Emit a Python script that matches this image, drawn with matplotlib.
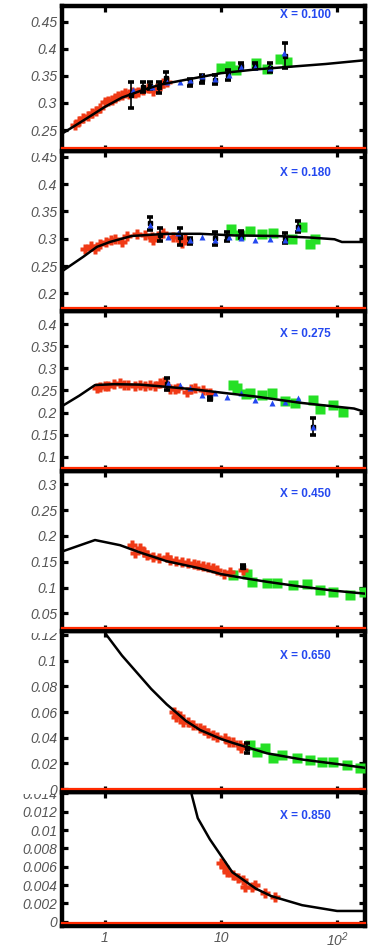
#!/usr/bin/env python3
"""Six stacked panels, value vs Q2 (log x) for several X bins: data sets + fit curve."""
import matplotlib
matplotlib.use("Agg")
import matplotlib.pyplot as plt
import matplotlib.transforms as mtransforms
from matplotlib.patches import Rectangle
from matplotlib.ticker import NullLocator, FuncFormatter

plt.rcParams["font.family"] = ["Liberation Sans", "DejaVu Sans"]
plt.rcParams["font.style"] = "italic"
plt.rcParams["mathtext.default"] = "regular"

# ---------- data ----------

PANEL_LABELS = ["X = 0.100", "X = 0.180", "X = 0.275", "X = 0.450", "X = 0.650", "X = 0.850"]

# panel 1, X = 0.100
line1_x = [0.43, 0.55, 0.7, 1.0, 1.4, 2.0, 3.0, 5.0, 10, 20, 40, 80, 175]
line1_y = [0.244, 0.258, 0.272, 0.293, 0.310, 0.322, 0.334, 0.343, 0.355, 0.362, 0.367, 0.372, 0.379]
red1_x = [0.55, 0.60, 0.65, 0.71, 0.77, 0.84, 0.905, 1.0, 1.07, 1.14, 1.22, 1.30, 1.40,
          1.49, 1.60, 1.70, 1.82, 1.94, 2.14, 2.36, 2.6, 2.79, 3.0, 3.18, 3.40]
red1_y = [0.259, 0.266, 0.272, 0.276, 0.281, 0.285, 0.290, 0.302, 0.303, 0.305, 0.309, 0.312, 0.315,
          0.318, 0.316, 0.321, 0.318, 0.321, 0.324, 0.327, 0.322, 0.327, 0.331, 0.336, 0.339]
black1_x = [1.68, 2.13, 2.44, 2.92, 3.36, 5.4, 6.8, 8.9, 11.4, 14.8, 19.6, 26.4, 35.6]
black1_y = [0.315, 0.330, 0.332, 0.329, 0.347, 0.338, 0.344, 0.343, 0.351, 0.368, 0.368, 0.365, 0.387]
black1_e = [0.024, 0.009, 0.007, 0.010, 0.011, 0.007, 0.008, 0.008, 0.009, 0.005, 0.005, 0.008, 0.023]
blue1_x = [1.75, 2.52, 3.4, 4.43, 5.4, 6.8, 8.9, 11.6, 15.0, 19.6, 26.4, 34.9]
blue1_y = [0.324, 0.330, 0.339, 0.339, 0.342, 0.349, 0.344, 0.352, 0.367, 0.367, 0.364, 0.392]
green1_x = [10.0, 12.0, 13.4, 19.9, 24.7, 32.2, 36.8]
green1_y = [0.364, 0.369, 0.361, 0.373, 0.363, 0.382, 0.376]

# panel 2, X = 0.180
line2_x = [0.43, 0.65, 0.85, 1.1, 1.7, 3.4, 6.6, 13, 30, 60, 95, 110, 175]
line2_y = [0.241, 0.267, 0.285, 0.294, 0.305, 0.309, 0.309, 0.306, 0.305, 0.302, 0.299, 0.294, 0.294]
red2_x = [0.67, 0.75, 0.82, 0.905, 1.03, 1.12, 1.22, 1.39, 1.54, 1.87, 2.2, 2.52, 2.6,
          2.88, 3.18, 3.88, 4.43, 4.58, 4.9]
red2_y = [0.282, 0.287, 0.282, 0.291, 0.294, 0.297, 0.300, 0.294, 0.305, 0.308, 0.306, 0.303, 0.298,
          0.305, 0.310, 0.303, 0.298, 0.293, 0.300]
black2_x = [2.44, 2.98, 4.43, 5.4, 8.9, 11.2, 15.0, 35.6, 46.5]
black2_y = [0.328, 0.307, 0.304, 0.296, 0.301, 0.304, 0.308, 0.301, 0.322]
black2_e = [0.012, 0.012, 0.015, 0.005, 0.012, 0.009, 0.007, 0.009, 0.010]
blue2_x = [2.44, 3.51, 4.28, 5.4, 6.8, 8.9, 11.6, 15.0, 19.6, 26.4, 35.6, 46.5]
blue2_y = [0.325, 0.304, 0.310, 0.298, 0.304, 0.298, 0.304, 0.301, 0.298, 0.299, 0.298, 0.319]
green2_x = [12.3, 14.6, 17.8, 22.4, 28.0, 40.6, 49.5, 58.4, 64.5]
green2_y = [0.317, 0.306, 0.314, 0.308, 0.311, 0.300, 0.322, 0.291, 0.299]

# panel 3, X = 0.275
line3_x = [0.43, 0.6, 0.82, 1.2, 2.0, 3.4, 6.0, 10, 20, 48, 100, 140, 175]
line3_y = [0.215, 0.238, 0.262, 0.264, 0.263, 0.258, 0.252, 0.245, 0.236, 0.222, 0.213, 0.209, 0.201]
red3_x = [0.85, 0.905, 1.0, 1.07, 1.2, 1.35, 1.45, 1.59, 1.8, 2.0, 2.2, 2.44, 2.7,
          2.98, 3.2, 3.6, 4.0, 4.28, 5.05, 5.5, 5.96, 7.04, 8.03]
red3_y = [0.256, 0.258, 0.259, 0.260, 0.264, 0.266, 0.263, 0.262, 0.261, 0.262, 0.260, 0.262, 0.259,
          0.266, 0.270, 0.252, 0.254, 0.255, 0.247, 0.252, 0.255, 0.251, 0.243]
black3_x = [3.44, 8.03, 62.6]
black3_y = [0.264, 0.232, 0.168]
black3_e = [0.013, 0.003, 0.019]
blue3_x = [3.51, 4.43, 5.4, 6.8, 8.9, 11.2, 15.0, 19.6, 27.3, 35.6, 46.5, 62.6]
blue3_y = [0.266, 0.262, 0.255, 0.240, 0.243, 0.236, 0.243, 0.228, 0.221, 0.224, 0.232, 0.168]
green3_x = [12.8, 13.6, 16.5, 17.8, 22.4, 27.3, 35.6, 43.4, 62.6, 71.0, 93.0, 113]
green3_y = [0.262, 0.256, 0.241, 0.243, 0.240, 0.243, 0.226, 0.221, 0.228, 0.209, 0.218, 0.202]

# panel 4, X = 0.450
line4_x = [0.43, 0.82, 1.35, 2.0, 3.4, 6.6, 10, 17, 25, 48, 93, 175]
line4_y = [0.170, 0.192, 0.182, 0.168, 0.151, 0.137, 0.126, 0.117, 0.111, 0.102, 0.094, 0.088]
red4_x = [1.70, 1.81, 2.0, 2.15, 2.29, 2.6, 2.9, 3.4, 3.63, 4.1, 4.58, 5.2, 5.8, 6.36,
          7.0, 7.77, 8.5, 9.17, 10.5, 11.9, 15.6]
red4_y = [0.182, 0.166, 0.176, 0.168, 0.163, 0.160, 0.158, 0.160, 0.153, 0.151, 0.150, 0.147, 0.146, 0.144,
          0.142, 0.140, 0.137, 0.134, 0.127, 0.131, 0.134]
black4_x = [15.6]
black4_y = [0.140]
black4_e = [0.003]
blue4_x = []
blue4_y = []
green4_x = [12.8, 16.6, 18.4, 24.7, 30.2, 42, 54.6, 71.3, 93, 129, 169]
green4_y = [0.124, 0.127, 0.111, 0.108, 0.108, 0.105, 0.106, 0.095, 0.092, 0.085, 0.092]

# panel 5, X = 0.650
line5_x = [0.85, 1.03, 1.4, 1.75, 2.5, 3.4, 5, 6.6, 10, 13, 25, 50, 100, 175]
line5_y = [0.135, 0.12, 0.104, 0.094, 0.078, 0.066, 0.053, 0.046, 0.039, 0.0356, 0.0278, 0.0230, 0.0195, 0.0165]
red5_x = [3.9, 4.1, 4.4, 4.73, 5.2, 5.77, 6.6, 7.2, 7.77, 8.6, 9.17, 10.8, 11.8, 12.8, 14.6, 15.0]
red5_y = [0.060, 0.0564, 0.057, 0.0525, 0.052, 0.050, 0.0473, 0.046, 0.0434, 0.0422, 0.0408, 0.0395,
          0.037, 0.0369, 0.0343, 0.0317]
black5_x = [16.6]
black5_y = [0.0317]
black5_e = [0.004]
blue5_x = []
blue5_y = []
green5_x = [17.8, 20.3, 23.9, 28.2, 33.3, 44.8, 58.4, 73.6, 92.7, 121, 158]
green5_y = [0.0343, 0.0291, 0.0317, 0.0239, 0.0265, 0.0239, 0.0226, 0.0213, 0.0213, 0.0187, 0.0161]

# panel 6, X = 0.850
line6_x = [5.4, 5.6, 6.3, 8, 10, 12.5, 15, 20, 27, 50, 100, 175]
line6_y = [0.0150, 0.0138, 0.0113, 0.0090, 0.0072, 0.0054, 0.0047, 0.0036, 0.0028, 0.0018, 0.00117, 0.00117]
red6_x = [10, 10.5, 11.2, 12.8, 14.1, 15.6, 16, 18.4, 19.6, 23.9, 29.2]
red6_y = [0.00637, 0.0060, 0.00545, 0.0051, 0.00473, 0.00455, 0.0038, 0.0038, 0.0040, 0.0031, 0.00273]
black6_x, black6_y, black6_e = [], [], []
blue6_x, blue6_y = [], []
green6_x, green6_y = [], []

XTICKS = [1, 10, 100]
XTICK_LABELS = ["1", "10", "$10^{2}$"]

# ---------- layout ----------

W, H = 370, 948
EDGES = [6, 151, 311, 471, 631, 792, 926]   # panel boundaries, pixels from top
LEFT, RIGHT = 62, 365
XLIM = (0.426, 174)
YLIMS = [(0.2114, 0.479), (0.1678, 0.4604), (0.0678, 0.4294),
         (0.0157, 0.3258), (-0.0023, 0.1231), (-0.00047, 0.01415)]
YTICKS = [[0.25, 0.3, 0.35, 0.4, 0.45],
          [0.2, 0.25, 0.3, 0.35, 0.4, 0.45],
          [0.1, 0.15, 0.2, 0.25, 0.3, 0.35, 0.4],
          [0.05, 0.1, 0.15, 0.2, 0.25, 0.3],
          [0, 0.02, 0.04, 0.06, 0.08, 0.1, 0.12],
          [0, 0.002, 0.004, 0.006, 0.008, 0.01, 0.012, 0.014]]
LABEL_DROP = [9, 22, 23, 23, 25, 24]  # px below panel top for the X label

RED, GREEN, BLUE = "#f03a16", "#25e025", "#2448f0"

panels = [
    (line1_x, line1_y, red1_x, red1_y, black1_x, black1_y, black1_e, blue1_x, blue1_y, green1_x, green1_y),
    (line2_x, line2_y, red2_x, red2_y, black2_x, black2_y, black2_e, blue2_x, blue2_y, green2_x, green2_y),
    (line3_x, line3_y, red3_x, red3_y, black3_x, black3_y, black3_e, blue3_x, blue3_y, green3_x, green3_y),
    (line4_x, line4_y, red4_x, red4_y, black4_x, black4_y, black4_e, blue4_x, blue4_y, green4_x, green4_y),
    (line5_x, line5_y, red5_x, red5_y, black5_x, black5_y, black5_e, blue5_x, blue5_y, green5_x, green5_y),
    (line6_x, line6_y, red6_x, red6_y, black6_x, black6_y, black6_e, blue6_x, blue6_y, green6_x, green6_y),
]

fig = plt.figure(figsize=(W / 100, H / 100), dpi=100)

# draw from the bottom panel up, so each pad's white margin hides
# part of the top tick label of the pad below (as in the original)
for i in reversed(range(6)):
    lx, ly, rx, ry, bx, by, be, ux, uy, gx, gy = panels[i]
    top, bot = EDGES[i], EDGES[i + 1]
    z = 2 * (5 - i)

    pad_top = 0 if i == 0 else top
    pad_bot = H if i == 5 else bot + 2
    fig.add_artist(Rectangle((0, 1 - pad_bot / H), 1, (pad_bot - pad_top) / H,
                             transform=fig.transFigure, facecolor="white",
                             edgecolor="none", zorder=z))

    ax = fig.add_axes([LEFT / W, 1 - bot / H, (RIGHT - LEFT) / W, (bot - top) / H])
    ax.set_zorder(z + 1)
    ax.set_xscale("log")
    ax.set_xlim(*XLIM)
    ax.set_ylim(*YLIMS[i])

    ax.plot(gx, gy, "s", color=GREEN, ms=7, mec="none", zorder=3)
    ax.plot(rx, ry, "P", color=RED, ms=6.5, mec="none", zorder=4)
    if bx:
        ax.errorbar(bx, by, yerr=be, fmt="s", color="k", ms=2.5, elinewidth=1.2,
                    capsize=2.4, capthick=2.6, zorder=5)
    ax.plot(ux, uy, "^", color=BLUE, ms=5, mec="none", zorder=6)
    ax.plot(lx, ly, "-", color="k", lw=1.8, zorder=7)

    # red baseline just above the lower frame
    red_tr = mtransforms.offset_copy(ax.get_yaxis_transform(), fig=fig, y=3, units="dots")
    ax.plot([0, 1], [YLIMS[i][0]] * 2, color="#ff2a00", lw=1.6, transform=red_tr,
            zorder=8, clip_on=False)

    ax.set_yticks(YTICKS[i])
    ax.yaxis.set_major_formatter(FuncFormatter(lambda v, pos: f"{v:g}"))
    ax.set_xticks(XTICKS)
    ax.xaxis.set_minor_locator(NullLocator())
    ax.yaxis.set_minor_locator(NullLocator())
    if i == 5:
        ax.set_xticklabels(XTICK_LABELS)
    else:
        ax.tick_params(axis="x", labelbottom=False)

    ax.tick_params(which="major", direction="in", length=4.5, width=2.3,
                   top=True, right=True, colors="k", labelcolor="#555555",
                   labelsize=10, pad=3.5)
    for sp in ax.spines.values():
        sp.set_linewidth(3.2)
        sp.set_color("k")

    ax.text(0.72, 1 - LABEL_DROP[i] / (bot - top), PANEL_LABELS[i],
            transform=ax.transAxes, color=BLUE, fontsize=8.5, fontweight="bold",
            fontstyle="normal", ha="left", va="center", zorder=9)

fig.savefig("out.png", dpi=100)
